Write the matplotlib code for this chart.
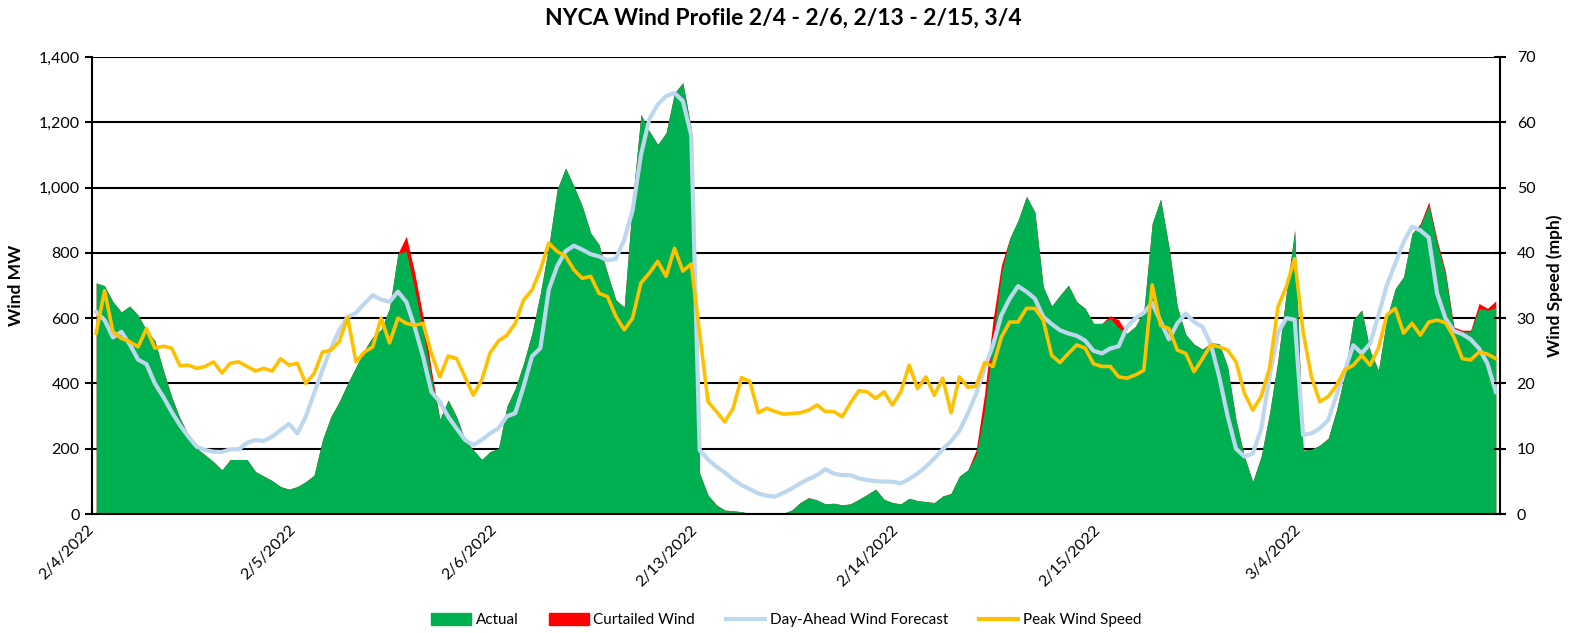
import numpy as np
import matplotlib
matplotlib.use("Agg")
import matplotlib.pyplot as plt
from matplotlib.patches import Patch
from matplotlib.lines import Line2D

plt.rcParams['font.family'] = ['Lato', 'DejaVu Sans']

# hourly values, 7 days x 24 hours
day_labels = ['2/4/2022', '2/5/2022', '2/6/2022', '2/13/2022', '2/14/2022', '2/15/2022', '3/4/2022']

actual_mw = [
    708, 699, 650, 619, 637, 609, 563, 531, 441, 359, 293, 242, 201, 181, 160, 135, 167, 167, 167, 130, 116, 102, 84, 76,
    84, 99, 119, 227, 298, 344, 400, 451, 502, 543, 565, 630, 798, 805, 690, 560, 420, 290, 349, 298, 227, 196, 167, 191,
    201, 329, 385, 462, 554, 677, 820, 994, 1060, 1004, 943, 861, 825, 738, 656, 634, 960, 1224, 1173, 1132, 1168, 1290, 1321, 1180,
    125, 58, 28, 12, 10, 7, 2, 0, 0, 0, 2, 12, 35, 50, 43, 31, 33, 28, 31, 45, 60, 76, 45, 35,
    31, 48, 41, 38, 35, 55, 63, 116, 135, 181, 318, 533, 737, 844, 900, 973, 925, 696, 637, 670, 701, 650, 630, 584,
    584, 599, 570, 553, 575, 620, 890, 965, 818, 635, 550, 520, 505, 524, 522, 451, 288, 176, 99, 176, 308, 471, 676, 869,
    195, 198, 211, 232, 319, 431, 595, 625, 500, 440, 600, 690, 727, 859, 885, 946, 829, 732, 563, 558, 558, 630, 624, 633,
]

curtailed_mw = [
    0] * 37 + [46, 50, 45, 20] + [0] * 64 + [15, 50, 60, 25] + [0] * 12 + [8, 25] + [0] * 35 + [
    5, 10, 10, 10, 10, 5, 5, 15, 6, 20]

forecast_mw = [
    619, 594, 541, 558, 520, 473, 459, 400, 359, 313, 272, 237, 206, 196, 191, 190, 198, 198, 218, 227, 224, 237, 257, 276,
    247, 298, 369, 441, 507, 563, 604, 616, 645, 670, 657, 650, 681, 650, 573, 482, 374, 344, 298, 262, 227, 211, 227, 247,
    263, 299, 309, 391, 483, 508, 687, 759, 805, 822, 810, 796, 789, 777, 781, 840, 930, 1100, 1210, 1254, 1280, 1290, 1265, 1160,
    196, 167, 145, 127, 106, 89, 76, 63, 56, 53, 65, 78, 94, 107, 119, 137, 124, 119, 119, 109, 104, 101, 99, 99,
    94, 107, 124, 145, 170, 198, 223, 255, 308, 369, 446, 517, 609, 660, 698, 681, 660, 604, 582, 563, 553, 546, 531, 500,
    492, 507, 514, 573, 600, 616, 647, 590, 535, 584, 614, 589, 573, 520, 420, 300, 200, 176, 185, 260, 420, 554, 600, 595,
    242, 247, 262, 288, 364, 440, 517, 492, 522, 609, 701, 767, 834, 880, 869, 847, 675, 599, 561, 551, 535, 507, 461, 374,
]

peak_speed_mph = [
    27.7, 34.2, 27.9, 26.9, 26.4, 25.6, 28.4, 25.4, 25.7, 25.4, 22.7, 22.8, 22.3, 22.6, 23.3, 21.6, 23.1, 23.3, 22.6, 21.9, 22.3, 21.9, 23.8, 22.8,
    23.1, 20.0, 21.5, 24.8, 25.1, 26.4, 30.1, 23.3, 24.8, 25.6, 30.0, 26.2, 30.0, 29.2, 28.9, 29.2, 24.6, 21.0, 24.2, 23.8, 21.0, 18.2, 20.5, 24.7,
    26.5, 27.4, 29.2, 32.8, 34.3, 37.4, 41.5, 40.2, 39.5, 37.4, 36.1, 36.4, 33.8, 33.3, 30.3, 28.2, 30.0, 35.4, 36.9, 38.7, 36.4, 40.7, 37.2, 38.3,
    27.7, 17.2, 15.7, 14.1, 16.2, 20.9, 20.3, 15.5, 16.2, 15.7, 15.3, 15.4, 15.5, 15.9, 16.7, 15.7, 15.7, 14.9, 17.0, 18.9, 18.7, 17.7, 18.7, 16.7,
    18.7, 22.8, 19.2, 21.0, 18.2, 20.8, 15.5, 21.0, 19.4, 19.6, 23.2, 22.6, 27.1, 29.4, 29.4, 31.5, 31.5, 29.7, 24.3, 23.2, 24.6, 25.9, 25.4, 23.0,
    22.6, 22.6, 21.0, 20.8, 21.3, 22.0, 35.1, 28.9, 28.4, 25.1, 24.6, 21.8, 23.8, 25.9, 25.6, 25.1, 23.3, 18.5, 15.9, 18.0, 22.3, 31.7, 34.8, 39.1,
    28.0, 21.0, 17.2, 18.0, 19.7, 22.1, 22.8, 24.3, 22.8, 25.4, 30.5, 31.5, 27.7, 29.2, 27.4, 29.4, 29.7, 29.3, 27.1, 23.8, 23.6, 24.8, 24.5, 23.8,
]

green = '#00B050'
red = '#FF0000'
blue = '#BDD7EE'
orange = '#FFC000'

actual = np.array(actual_mw, dtype=float)
total = actual + np.array(curtailed_mw, dtype=float)
hours = np.arange(len(actual)) + 0.5

fig = plt.figure(figsize=(15.73, 6.33), dpi=100)
ax = fig.add_axes([92 / 1573, 1 - 514 / 633, 1408 / 1573, 457 / 633])

ax.fill_between(hours, total, 0, color=red, lw=0, zorder=2)
ax.fill_between(hours, actual, 0, color=green, lw=0, zorder=2)
ax.plot(hours, forecast_mw, color=blue, lw=3.0, zorder=3, solid_joinstyle='round')

ax.set_xlim(0, 168)
ax.set_ylim(0, 1400)
ax.set_yticks(range(0, 1401, 200))
ax.set_yticklabels([f'{v:,}' for v in range(0, 1401, 200)])
ax.yaxis.grid(True, color='black', lw=1.5)
ax.set_axisbelow(True)
ax.set_xticks(range(0, 168, 24))
ax.set_xticklabels(day_labels, rotation=45, ha='right', va='center', rotation_mode='anchor')
ax.tick_params(axis='x', direction='in', length=5, width=1.5, pad=10, labelsize=11.5)
ax.tick_params(axis='y', direction='out', length=5, width=1.5, labelsize=11.5, pad=4)
ax.set_ylabel('Wind MW', fontsize=12.5, fontweight='bold', labelpad=10)
for s in ['left', 'bottom']:
    ax.spines[s].set_linewidth(1.5)
ax.spines['top'].set_visible(False)
ax.spines['right'].set_visible(False)

ax2 = ax.twinx()
ax2.plot(hours, peak_speed_mph, color=orange, lw=2.6, solid_joinstyle='round')
ax2.set_ylim(0, 70)
ax2.set_yticks(range(0, 71, 10))
ax2.tick_params(axis='y', direction='inout', length=8, width=1.5, labelsize=11.5, pad=8)
ax2.set_ylabel('Wind Speed (mph)', fontsize=12.5, fontweight='bold', labelpad=8)
ax2.spines['right'].set_linewidth(1.5)
ax2.spines['top'].set_visible(False)
ax2.spines['left'].set_visible(False)
ax2.spines['bottom'].set_visible(False)

fig.text(0.498, 1 - 18 / 633, 'NYCA Wind Profile 2/4 - 2/6, 2/13 - 2/15, 3/4',
         ha='center', va='center', fontsize=16.5, fontweight='bold')

handles = [Patch(color=green, label='Actual'),
           Patch(color=red, label='Curtailed Wind'),
           Line2D([], [], color=blue, lw=3, label='Day-Ahead Wind Forecast'),
           Line2D([], [], color=orange, lw=3, label='Peak Wind Speed')]
fig.legend(handles=handles, loc='center', bbox_to_anchor=(0.5, 1 - 620 / 633), ncol=4,
           frameon=False, fontsize=11, handlelength=2.6, handleheight=0.9,
           handletextpad=0.3, columnspacing=2.0)

fig.savefig('out.png', dpi=100)
